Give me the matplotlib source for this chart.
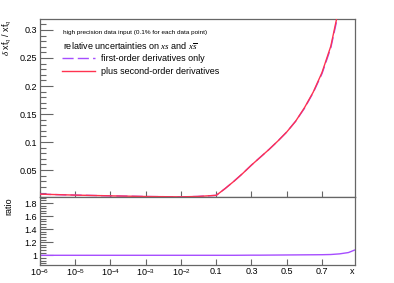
import numpy as np
import matplotlib
matplotlib.use("Agg")
import matplotlib.pyplot as plt
from matplotlib.lines import Line2D

plt.rcParams['font.family'] = ['Liberation Sans', 'DejaVu Sans']
plt.rcParams['mathtext.fontset'] = 'custom'
plt.rcParams['mathtext.rm'] = 'Liberation Sans'
plt.rcParams['mathtext.it'] = 'Liberation Serif:italic'

# ---------------- data ----------------
x_vals = [1e-6, 1e-5, 1e-4, 1e-3, 1e-2, 0.03, 0.1, 0.15, 0.2, 0.25, 0.3, 0.35,
          0.4, 0.45, 0.5, 0.55, 0.6, 0.65, 0.7, 0.75, 0.8, 0.85, 0.885]
unc_first = [0.0071, 0.0054, 0.0041, 0.0029, 0.0023, 0.0030, 0.0050, 0.017, 0.030,
             0.044, 0.059, 0.073, 0.087, 0.102, 0.118, 0.137, 0.160, 0.188, 0.222,
             0.268, 0.340, 0.43, 0.50]
unc_second = [0.0071, 0.0054, 0.0041, 0.0029, 0.0023, 0.0030, 0.0050, 0.017, 0.030,
              0.044, 0.059, 0.073, 0.087, 0.102, 0.118, 0.137, 0.161, 0.189, 0.224,
              0.271, 0.345, 0.44, 0.52]
ratio_vals = [1.0, 1.0, 1.0, 1.0, 1.0, 1.0, 1.0, 1.0, 1.0, 1.001, 1.002, 1.002,
              1.003, 1.004, 1.005, 1.006, 1.007, 1.008, 1.009, 1.012, 1.022, 1.042,
              1.08]

xticks_vals = [1e-6, 1e-5, 1e-4, 1e-3, 1e-2, 0.1, 0.3, 0.5, 0.7]
xtick_labels = ['$10^{-6}$', '$10^{-5}$', '$10^{-4}$', '$10^{-3}$', '$10^{-2}$',
                '0.1', '0.3', '0.5', '0.7']
top_yticks = [0.05, 0.1, 0.15, 0.2, 0.25, 0.3]
top_ytick_labels = ['0.05', '0.1', '0.15', '0.2', '0.25', '0.3']
ratio_yticks = [1.0, 1.2, 1.4, 1.6, 1.8]
ratio_ytick_labels = ['1', '1.2', '1.4', '1.6', '1.8']

header1 = 'high precision data input (0.1% for each data point)'
header2 = r'relative uncertainties on $xs$ and $x\overline{s}$'
label_first = 'first-order derivatives only'
label_second = 'plus second-order derivatives'

# ---------------- scale ----------------
def fwd(x):
    x = np.asarray(x, dtype=float)
    with np.errstate(divide='ignore', invalid='ignore'):
        lg = np.log10(np.clip(x, 1e-12, None))
    return np.where(x < 0.1, lg, -1.0 + (x - 0.1) / 0.2)

def inv(t):
    t = np.asarray(t, dtype=float)
    with np.errstate(over='ignore'):
        return np.where(t < -1.0, 10.0 ** np.minimum(t, 0), 0.1 + (t + 1.0) * 0.2)

purple = '#a64dff'
red = '#ff3350'
frame_col = '#666666'

fig = plt.figure(figsize=(3.94, 2.83), dpi=100)
L, R = 40 / 394, 354.6 / 394
ax = fig.add_axes([L, 1 - 197.3 / 283, R - L, (197.3 - 19) / 283])
axr = fig.add_axes([L, 1 - 264.7 / 283, R - L, (264.7 - 197.3) / 283])

for a in (ax, axr):
    a.set_xscale('function', functions=(fwd, inv))
    a.set_xlim(1e-6, 0.885)
    a.set_xticks(xticks_vals)
    a.xaxis.set_minor_locator(matplotlib.ticker.NullLocator())
    for s in a.spines.values():
        s.set_color(frame_col)
        s.set_linewidth(0.9)
    a.tick_params(axis='both', which='both', direction='in', color=frame_col,
                  labelsize=6.5, top=False, right=False, width=0.8)
    a.tick_params(axis='x', which='major', length=4)
    a.tick_params(axis='y', which='major', length=9, pad=2)
    a.tick_params(axis='y', which='minor', length=4)

# top panel
ax.plot(x_vals, unc_first, color=purple, lw=1.0, dashes=(8, 3), zorder=3)
ax.plot(x_vals, unc_second, color=red, lw=1.0, zorder=4)
ax.set_ylim(0.0015, 0.3195)
ax.set_yticks(top_yticks)
ax.set_yticklabels(top_ytick_labels)
ax.yaxis.set_minor_locator(matplotlib.ticker.MultipleLocator(0.01))
ax.set_xticklabels([])
ax.set_ylabel(r'$\delta$ xf$_q$ / xf$_q$', fontsize=6.5, loc='top')
ax.yaxis.set_label_coords(-0.085, 1.0)

fig.text(63 / 394, 1 - 33 / 283, header1, fontsize=4.6, va='center', ha='left')
fig.text(63 / 394, 1 - 46 / 283, header2, fontsize=6.5, va='center', ha='left')
handles = [Line2D([], [], color=purple, lw=1.0, dashes=(8, 3)),
           Line2D([], [], color=red, lw=1.0)]
ax.legend(handles, [label_first, label_second], loc='upper left',
          bbox_to_anchor=(62 / 394, 1 - 54 / 283), bbox_transform=fig.transFigure,
          frameon=False, fontsize=6.5, handlelength=3.6, handletextpad=0.7,
          labelspacing=0.45, borderpad=0, borderaxespad=0)

# ratio panel
axr.plot(x_vals, ratio_vals, color=purple, lw=1.0)
axr.set_ylim(0.856, 1.888)
axr.set_yticks(ratio_yticks)
axr.set_yticklabels(ratio_ytick_labels)
axr.yaxis.set_minor_locator(matplotlib.ticker.MultipleLocator(0.04))
axr.set_xticklabels(xtick_labels)
axr.tick_params(axis='x', pad=2)
axr.set_ylabel('ratio', fontsize=6.5, loc='top')
axr.yaxis.set_label_coords(-0.085, 1.0)
fig.text(352 / 394, 1 - 271 / 283, 'x', fontsize=6.5, ha='center', va='center')

fig.savefig('out.png', dpi=100)
